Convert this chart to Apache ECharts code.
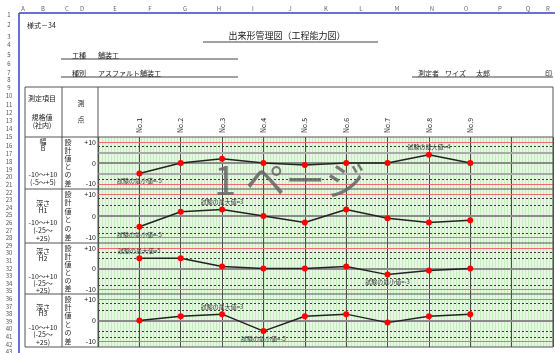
<!DOCTYPE html>
<html>
<head>
<meta charset="utf-8">
<title>出来形管理図（工程能力図）</title>
<script src="https://cdn.jsdelivr.net/npm/echarts@6/dist/echarts.min.js"></script>
<style>
  html, body { margin: 0; padding: 0; background: #fff; }
  #chart { width: 555px; height: 353px; }
</style>
</head>
<body>
<div id="chart"></div>
<script>
// 測点（前後に空きを持たせる）
const categories = ['', 'No.1', 'No.2', 'No.3', 'No.4', 'No.5', 'No.6', 'No.7', 'No.8', 'No.9', '', ''];

// 設計値との差
const widthB  = [-5, 0, 2, 0, -1, 0, 0, 4, 0];
const depthH1 = [-5, 2, 3, 0, -3, 3, -1, -3, -2];
const depthH2 = [5, 5, 1, 0, 0, 1, -3, -1, 0];
const depthH3 = [0, 2, 3, -5, 2, 3, -1, 2, 3];

// 目盛・基準線
const yTicks = [10, 0, -10];
const specLines = [10, -10];
const dashLinesB = [8, -8];
const dashLinesH = [8, 5, -5, -8];
const grayLinesB = [5, 0, -5];
const grayLinesH = [0];

// 表の文字
const itemNames = [['幅', 'B'], ['深さ', 'H1'], ['深さ', 'H2'], ['深さ', 'H3']];
const rangeTexts = [['-10～+10', '(-5～+5)'], ['-10～+10', '(-25～', '+25)'], ['-10～+10', '(-25～', '+25)'], ['-10～+10', '(-25～', '+25)']];
const colLetters = ['A', 'B', 'C', 'D', 'E', 'F', 'G', 'H', 'I', 'J', 'K', 'L', 'M', 'N', 'O', 'P', 'Q', 'R'];

const FONT = '"Noto Sans CJK JP", "Noto Sans", sans-serif';

const panels = [
  { values: widthB,  top: 137, height: 52, dashes: dashLinesB, grays: grayLinesB },
  { values: depthH1, top: 189, height: 54, dashes: dashLinesH, grays: grayLinesH },
  { values: depthH2, top: 243, height: 51, dashes: dashLinesH, grays: grayLinesH },
  { values: depthH3, top: 294, height: 53, dashes: dashLinesH, grays: grayLinesH }
];

// 方眼の緑ストライプ
const pat = document.createElement('canvas');
pat.width = 3; pat.height = 1;
const pctx = pat.getContext('2d');
pctx.fillStyle = '#e6f8e2'; pctx.fillRect(0, 0, 3, 1);
pctx.fillStyle = '#c6ecc0'; pctx.fillRect(0, 0, 1, 1);

const myChart = echarts.init(document.getElementById('chart'));

const grids = [], xAxes = [], yAxes = [], series = [];
panels.forEach((p, i) => {
  grids.push({
    left: 98, top: p.top, width: 455, height: p.height,
    show: true, borderWidth: 0,
    backgroundColor: { image: pat, repeat: 'repeat' }
  });
  xAxes.push({
    type: 'category', gridIndex: i, data: categories, boundaryGap: false,
    position: 'top',
    axisLine: { show: false }, axisTick: { show: false },
    axisLabel: {
      show: i === 0, rotate: 90, interval: 0, margin: 4,
      fontSize: 7, color: '#222', fontFamily: FONT
    },
    splitLine: { show: true, lineStyle: { color: '#4d4d4d', width: 1 } }
  });
  yAxes.push({
    type: 'value', gridIndex: i, min: -12.5, max: 12.5,
    axisLine: { show: false }, axisTick: { show: false },
    splitLine: { show: false },
    axisLabel: {
      customValues: yTicks, margin: 2, fontSize: 7, color: '#111', fontFamily: FONT,
      formatter: v => (yTicks.indexOf(v) < 0 ? '' : (v > 0 ? '+' + v : String(v)))
    }
  });
  const lines = [];
  p.grays.forEach(v => lines.push({ yAxis: v, lineStyle: { color: v === 0 ? '#8a8a8a' : '#a9a9a9', width: 2, type: 'solid' } }));
  p.dashes.forEach(v => lines.push({ yAxis: v, lineStyle: { color: '#3a3a3a', width: 1, type: [2, 2] } }));
  specLines.forEach(v => lines.push({ yAxis: v, lineStyle: { color: '#f26a6a', width: 1, type: 'solid' } }));
  series.push({
    type: 'line', xAxisIndex: i, yAxisIndex: i,
    data: p.values.map((v, k) => [k + 1, v]),
    symbol: 'circle', symbolSize: 6,
    itemStyle: { color: '#ff0000' },
    lineStyle: { color: '#222', width: 1.5 },
    z: 5,
    markLine: { silent: true, symbol: ['none', 'none'], label: { show: false }, data: lines, z: 2 },
    markPoint: {
      symbol: 'rect', symbolSize: 1, itemStyle: { color: 'transparent' },
      label: { show: true, fontSize: 6, color: '#333', fontFamily: FONT, distance: 4 },
      data: [
        { type: 'max', label: { position: 'top', formatter: '試験の最大値={c}' } },
        { type: 'min', label: { position: 'bottom', formatter: '試験の最小値={c}' } }
      ]
    }
  });
});

// 表・見出しの描画
const g = [];
function txt(text, x, y, size, opt, z) {
  g.push({
    type: 'text', z: z || 20, x: x, y: y,
    style: Object.assign({
      text: text, x: 0, y: 0, fontSize: size, fontFamily: FONT, fill: '#222',
      align: 'left', verticalAlign: 'middle'
    }, opt || {})
  });
}
function line(x1, y1, x2, y2, color, w) {
  g.push({ type: 'line', z: 15, silent: true, shape: { x1: x1, y1: y1, x2: x2, y2: y2 }, style: { stroke: color, lineWidth: w || 1 } });
}
const C = { align: 'center' };

// 列見出し・行番号
const colX = [23, 43, 67, 82, 115, 150, 185, 219, 253, 290, 326, 361, 397, 432, 466, 500, 528, 548];
colLetters.forEach((c, i) => txt(c, colX[i], 9, 6, Object.assign({ fill: '#666' }, C)));
const rowY = [15, 25, 37, 45, 55, 64, 73, 80];
for (let r = 9; r <= 43; r++) rowY.push(r <= 18 ? 88 + (r - 9) * 8.2 : 162 + (r - 18) * 7.6);
rowY.forEach((y, i) => txt(String(i + 1), 9, y, 6, Object.assign({ fill: '#555' }, C)));
line(19, 13, 555, 13, '#3c3cc8', 1.5);
line(19, 13, 19, 353, '#3c3cc8', 1.5);

// 表題
txt('様式－34', 27, 25, 7);
txt('出来形管理図（工程能力図）', 287, 36, 9, C);
line(203, 42, 378, 42, '#444');
txt('工種', 72, 55, 7); txt('舗装工', 98, 55, 7);
line(61, 59, 238, 59, '#444');
txt('種別', 72, 73, 7); txt('アスファルト舗装工', 98, 73, 7);
line(61, 77, 238, 77, '#444');
txt('測定者', 418, 73, 7); txt('ワイズ', 445, 73, 7); txt('太郎', 476, 73, 7); txt('印', 545, 73, 7);
line(412, 77, 553, 77, '#444');

// 表の見出し
txt('測定項目', 42, 98, 7, C);
txt('規格値', 42, 117, 7, C);
txt('(社内)', 42, 125, 7, C);
txt('測', 81, 103, 7, C);
txt('点', 81, 119, 7, C);

// 表枠
[87, 137, 189, 243, 294, 347].forEach(y => line(25, y, 553, y, '#555'));
[25, 62, 98, 553].forEach(x => line(x, 87, x, 347, '#555'));

// 各段の項目名
const nameY = [[141, 148], [203, 210], [251, 258], [307, 313]];
const rangeY = [[174, 182], [222, 230, 238], [276, 283, 290], [327, 334, 342]];
const sideText = ['設', '計', '値', 'と', 'の', '差'];
panels.forEach((p, i) => {
  itemNames[i].forEach((t, k) => txt(t, 43, nameY[i][k], 7, C));
  rangeTexts[i].forEach((t, k) => txt(t, 43, rangeY[i][k], 7, C));
  const step = (p.height - 11) / 5;
  sideText.forEach((t, k) => txt(t, 68, p.top + 5 + k * step, 7, C));
});

// 改ページプレビューの透かし
txt('1 ページ', 214, 180, 40, { fill: 'rgba(100,100,100,0.85)' }, 100);

myChart.setOption({
  animation: false,
  textStyle: { fontFamily: FONT },
  grid: grids,
  xAxis: xAxes,
  yAxis: yAxes,
  series: series,
  graphic: { elements: g }
});
window.addEventListener('resize', () => myChart.resize());
</script>
</body>
</html>
